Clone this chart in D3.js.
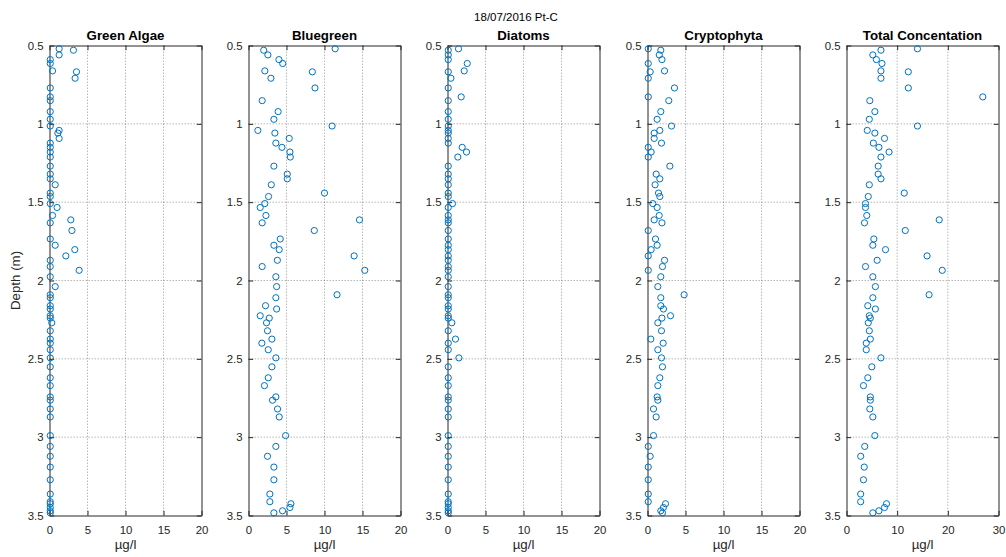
<!DOCTYPE html>
<html>
<head>
<meta charset="utf-8">
<script src="https://cdn.jsdelivr.net/npm/d3@7"></script>
<style>
  html, body { margin: 0; padding: 0; background: #fff; }
  svg { display: block; font-family: "Liberation Sans", Arial, Helvetica, sans-serif; }
</style>
</head>
<body>
<script>
// ---------------- DATA ----------------
const figureTitle = "18/07/2016 Pt-C";
const panelTitles = ["Green Algae", "Bluegreen", "Diatoms", "Cryptophyta", "Total Concentation"];
const xLabel = "\u00B5g/l";
const yLabel = "Depth (m)";
const yTicks = [0.5, 1, 1.5, 2, 2.5, 3, 3.5];
const xTicks20 = [0, 5, 10, 15, 20];
const xTicks30 = [0, 10, 20, 30];

const depth = [0.521,0.530,0.560,0.590,0.615,0.662,0.668,0.709,0.771,0.828,
0.852,0.922,0.971,1.014,1.042,1.059,1.093,1.123,1.150,1.180,
1.212,1.270,1.321,1.351,1.389,1.442,1.464,1.509,1.534,1.585,
1.613,1.632,1.681,1.735,1.775,1.803,1.843,1.871,1.911,1.935,
1.976,2.039,2.091,2.110,2.161,2.182,2.225,2.240,2.270,2.321,
2.374,2.400,2.442,2.494,2.551,2.621,2.671,2.743,2.764,2.820,
2.871,2.990,3.059,3.122,3.191,3.272,3.363,3.412,3.425,3.449,
3.470,3.483];

const greenAlgae = [1.27,3.15,1.27,0.1,0.1,0.4,3.55,3.37,0.1,0.1,
0.1,0.1,0.1,0.1,1.27,1.1,1.27,0.1,0.1,0.1,
0.1,0.1,0.1,0.1,0.75,0.1,0.1,0.1,1.0,0.4,
2.8,0.1,2.95,0.1,0.75,3.33,2.15,0.1,0.1,3.9,
0.1,0.75,0.1,0.1,0.1,0.1,0.1,0.1,0.3,0.1,
0.1,0.1,0.1,0.1,0.1,0.1,0.1,0.1,0.1,0.1,
0.1,0.1,0.1,0.1,0.1,0.1,0.1,0.1,0.1,0.1,
0.1,0.1];

const bluegreen = [11.4,2.0,2.55,4.0,4.5,2.15,8.4,2.95,8.75,24.9,
1.8,3.9,3.34,11.0,1.23,3.47,5.36,3.6,4.4,5.45,
5.5,3.34,5.1,5.1,3.0,10.0,2.64,2.15,1.54,2.29,
14.6,1.8,8.66,4.18,3.34,4.04,13.9,3.8,1.8,15.3,
3.6,3.7,11.65,3.6,2.24,3.7,1.54,2.73,2.37,2.5,
3.08,1.76,2.6,3.6,3.08,2.6,2.1,3.6,3.16,3.82,
4.04,4.88,3.6,2.5,3.34,3.34,2.81,2.81,5.58,5.45,
4.48,3.34];

const diatoms = [1.45,0.1,0.1,0.1,2.6,2.2,0.1,0.45,0.1,1.8,
0.1,0.1,0.1,0.1,0.1,0.1,0.1,0.1,1.93,2.5,
1.36,0.1,0.1,0.1,0.1,0.1,0.1,0.66,0.1,0.1,
0.1,0.1,0.1,0.1,0.1,0.1,0.1,0.1,0.1,0.1,
0.1,0.1,0.1,0.1,0.1,0.1,0.1,0.1,0.57,0.1,
1.05,0.1,0.1,1.5,0.1,0.1,0.1,0.1,0.1,0.1,
0.1,0.1,0.1,0.1,0.1,0.1,0.1,0.1,0.1,0.1,
0.1,0.1];

const cryptophyta = [0.1,1.75,1.55,1.9,0.1,2.24,0.35,0.1,3.55,0.1,
2.8,1.75,1.27,3.16,1.62,0.88,0.88,1.84,0.1,0.48,
0.1,2.94,1.14,1.62,1.0,1.45,1.62,0.7,1.27,1.54,
0.88,1.9,0.1,1.05,1.27,0.48,0.1,2.24,1.97,0.1,
1.75,1.36,4.82,1.75,1.75,2.1,3.03,1.9,1.36,1.84,
0.44,2.06,1.36,1.84,1.97,1.62,1.36,1.27,1.36,0.79,
1.14,0.79,0.1,0.35,0.1,0.1,0.1,0.1,2.37,2.1,
1.75,1.97];

const totalConc = [14.0,6.8,5.2,5.9,7.0,6.8,12.2,6.8,12.2,26.9,
4.6,5.6,4.5,14.0,4.1,5.6,7.5,5.3,6.4,8.4,
6.8,6.25,6.25,6.8,4.5,11.4,4.3,3.75,3.75,4.0,
18.3,3.55,11.6,5.4,5.2,7.7,15.9,6.05,3.75,18.9,
5.2,5.7,16.3,5.2,4.2,5.7,4.5,4.7,4.3,4.5,
4.7,3.9,3.9,6.8,5.0,4.2,3.35,4.7,4.7,4.6,
5.2,5.6,3.6,2.8,3.5,3.35,2.8,2.8,7.9,7.5,
6.4,5.2];

const seriesValues = [greenAlgae, bluegreen, diatoms, cryptophyta, totalConc];
const xTickSets = [xTicks20, xTicks20, xTicks20, xTicks20, xTicks30];

// ---------------- LAYOUT ----------------
const W = 1006, H = 557;
const plotTop = 45.5, plotBottom = 515.5, plotW = 152;
const lefts = [49.5, 248.5, 447.5, 647.5, 846.5];
const axisColor = "#262626";
const markerColor = "#0072BD";
const tickLen = 4.7;

const svg = d3.select("body").append("svg")
  .attr("width", W).attr("height", H)
  .attr("viewBox", `0 0 ${W} ${H}`);

svg.append("rect").attr("width", W).attr("height", H).attr("fill", "#fff");

const y = d3.scaleLinear().domain([yTicks[0], yTicks[yTicks.length - 1]]).range([plotTop, plotBottom]);

panelTitles.forEach((title, i) => {
  const L = lefts[i], R = L + plotW;
  const ticks = xTickSets[i];
  const x = d3.scaleLinear().domain([ticks[0], ticks[ticks.length - 1]]).range([L, R]);
  const g = svg.append("g");

  // grid
  const grid = g.append("g").attr("stroke", axisColor).attr("stroke-opacity", 0.32)
    .attr("stroke-width", 1).attr("stroke-dasharray", "1.5,1.5");
  grid.selectAll("line.gx").data(ticks.slice(1, -1)).join("line")
    .attr("x1", d => x(d)).attr("x2", d => x(d))
    .attr("y1", plotTop).attr("y2", plotBottom);
  grid.selectAll("line.gy").data(yTicks.slice(1, -1)).join("line")
    .attr("x1", L).attr("x2", R)
    .attr("y1", d => y(d)).attr("y2", d => y(d));

  // axes (ticks pointing inward, box on)
  const fmt = d3.format("");
  const styleAxis = sel => {
    sel.selectAll("path.domain").attr("stroke", axisColor).attr("stroke-width", 1);
    sel.selectAll(".tick line").attr("stroke", axisColor).attr("stroke-width", 1);
    sel.selectAll(".tick text").attr("fill", axisColor)
      .style("font-family", '"Liberation Sans", Arial, sans-serif');
  };
  g.append("g").attr("transform", `translate(0,${plotBottom})`)
    .call(d3.axisBottom(x).tickValues(ticks).tickFormat(fmt)
      .tickSizeInner(-tickLen).tickSizeOuter(0).tickPadding(10))
    .attr("font-size", 11.4).call(styleAxis);
  g.append("g").attr("transform", `translate(0,${plotTop})`)
    .call(d3.axisTop(x).tickValues(ticks).tickFormat("")
      .tickSizeInner(-tickLen).tickSizeOuter(0))
    .call(styleAxis);
  g.append("g").attr("transform", `translate(${L},0)`)
    .call(d3.axisLeft(y).tickValues(yTicks).tickFormat(fmt)
      .tickSizeInner(-tickLen).tickSizeOuter(0).tickPadding(6))
    .attr("font-size", 11.4).call(styleAxis);
  g.append("g").attr("transform", `translate(${R},0)`)
    .call(d3.axisRight(y).tickValues(yTicks).tickFormat("")
      .tickSizeInner(-tickLen).tickSizeOuter(0))
    .call(styleAxis);

  // markers (points outside the axis limits are not drawn)
  const vals = seriesValues[i];
  const pts = depth.map((d, k) => ({ d, v: vals[k] }))
    .filter(p => p.v >= x.domain()[0] && p.v <= x.domain()[1]);
  g.append("g").selectAll("circle").data(pts).join("circle")
    .attr("cx", p => x(p.v)).attr("cy", p => y(p.d)).attr("r", 3.1)
    .attr("fill", "none").attr("stroke", markerColor).attr("stroke-width", 1);

  // panel title
  g.append("text").attr("x", (L + R) / 2).attr("y", 39.5)
    .attr("text-anchor", "middle").attr("font-size", 13.3).attr("font-weight", "bold")
    .attr("fill", "#000").text(title);

  // x label
  g.append("text").attr("x", (L + R) / 2).attr("y", 548.5)
    .attr("text-anchor", "middle").attr("font-size", 13.3)
    .attr("fill", axisColor).text(xLabel);

  if (i === 0) {
    g.append("text").attr("transform", `translate(19.8,${(plotTop + plotBottom) / 2}) rotate(-90)`)
      .attr("text-anchor", "middle").attr("font-size", 13.3)
      .attr("fill", axisColor).text(yLabel);
  }
});

svg.append("text").attr("x", 516).attr("y", 21).attr("text-anchor", "middle")
  .attr("font-size", 11.5).attr("fill", "#000").text(figureTitle);
</script>
</body>
</html>
